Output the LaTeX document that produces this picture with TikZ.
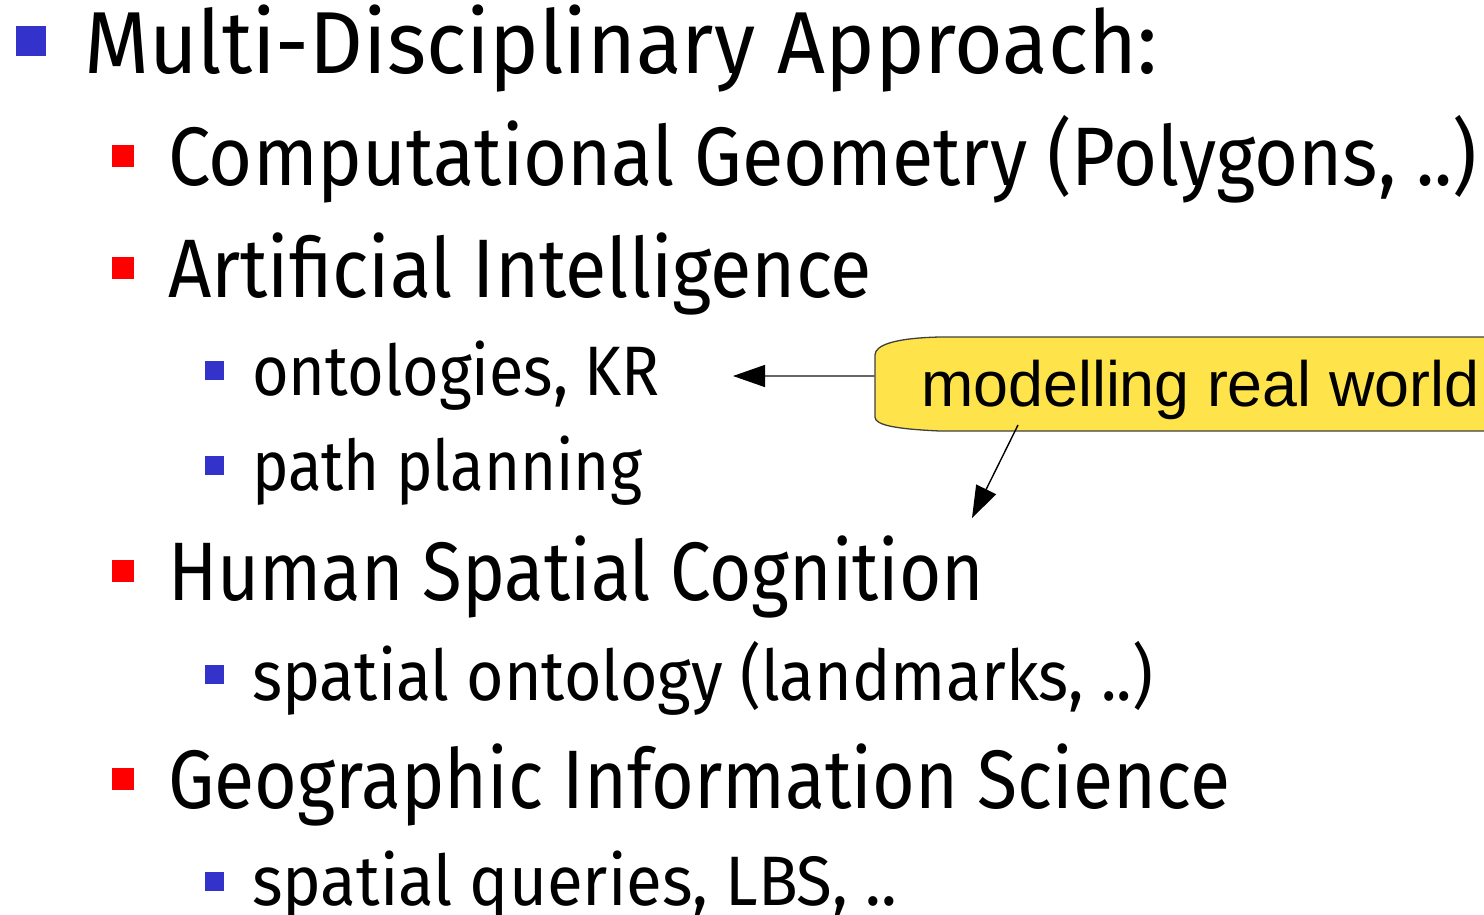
\documentclass[tikz,border=0pt]{standalone}
\usepackage{fontspec}
\usepackage{graphicx}
\setmainfont{Fira Sans}
\newfontfamily\calloutfont{Liberation Sans}
\usetikzlibrary{arrows.meta}
\definecolor{bulletblue}{HTML}{3333CC}
\definecolor{bulletred}{HTML}{FF0000}
\definecolor{noteyellow}{HTML}{FFE34A}
% fit a line of text to a given width, keeping its height
\newcommand\fitline[2]{\resizebox{#1pt}{\height}{#2}}
\tikzset{
  line/.style={anchor=base west, inner sep=0pt, outer sep=0pt, text=black},
  lvlone/.style={line, font=\fontsize{88}{88}\selectfont},
  lvltwo/.style={line, font=\fontsize{83}{83}\selectfont},
  lvlthree/.style={line, font=\fontsize{70}{70}\selectfont},
  bulletone/.style={fill=bulletblue, draw=none},
  bullettwo/.style={fill=bulletred, draw=none},
  bulletthree/.style={fill=bulletblue, draw=none},
  pointer/.style={line width=1.4pt, -{Triangle[length=32pt,width=22pt,black]}},
}
\begin{document}
\begin{tikzpicture}[x=1pt, y=-1pt]
\useasboundingbox (0,0) rectangle (1484,914);
\clip (0,0) rectangle (1484,914);

% level 1
\fill[bulletone] (16,26) rectangle (46,56);
\node[lvlone] (mda) at (84,73) {\fitline{1073}{Multi-Disciplinary Approach:}};

% level 2 and 3
\fill[bullettwo] (112,145) rectangle (134,167);
\node[lvltwo] (cg) at (168,185) {\fitline{1309}{Computational Geometry (Polygons, ..)}};

\fill[bullettwo] (112,257) rectangle (134,279);
\node[lvltwo] (ai) at (168,297) {\fitline{704}{Artificial Intelligence}};

\fill[bulletthree] (205,361) rectangle (224,380);
\node[lvlthree] (ont) at (252,395) {\fitline{408}{ontologies, KR}};

\fill[bulletthree] (205,456) rectangle (224,475);
\node[lvlthree] (pp) at (252,490) {\fitline{390}{path planning}};

\fill[bullettwo] (112,560) rectangle (134,582);
\node[lvltwo] (hsc) at (168,600) {\fitline{816}{Human Spatial Cognition}};

\fill[bulletthree] (205,665) rectangle (224,684);
\node[lvlthree] (so) at (252,700) {\fitline{901}{spatial ontology (landmarks, ..)}};

\fill[bullettwo] (112,768) rectangle (134,790);
\node[lvltwo] (gis) at (168,808) {\fitline{1062}{Geographic Information Science}};

\fill[bulletthree] (205,872) rectangle (224,891);
\node[lvlthree] (sq) at (252,905) {\fitline{645}{spatial queries, LBS, ..}};

% callout
\draw[fill=noteyellow, draw=black!75, line width=1.3pt]
  (1500,337) -- (940,337)
  .. controls (895,338) and (875,345) .. (875,355)
  -- (875,417)
  .. controls (875,425) and (895,429) .. (940,431)
  -- (1500,431);
\node[anchor=base west, inner sep=0pt, font=\calloutfont\fontsize{64}{64}\selectfont]
  (note) at (921,406) {\fitline{558}{modelling real world}};

\coordinate (noteleft) at (875,376);
\coordinate (notebottom) at (1018,425);
\coordinate (ontend) at (733,376);
\coordinate (hscend) at (972,518);
\draw[pointer, draw=black!60] (noteleft) -- (ontend);
\draw[pointer] (notebottom) -- (hscend);
\end{tikzpicture}
\end{document}
